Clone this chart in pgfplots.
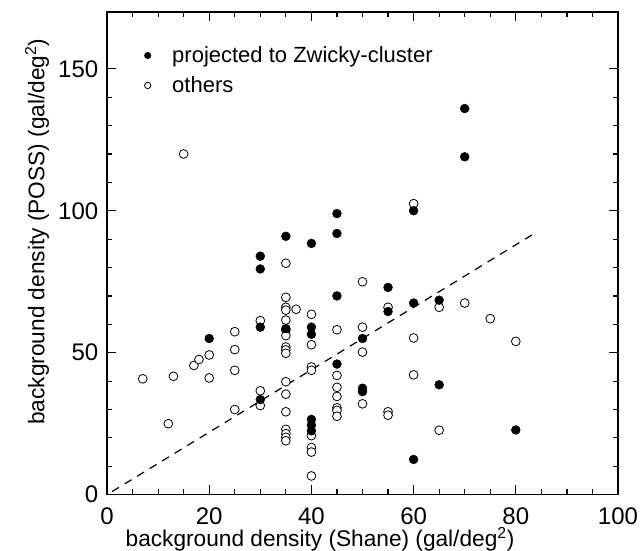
\documentclass[border=0pt]{standalone}
\usepackage{fontspec}
\setmainfont{Liberation Sans}
\usepackage{pgfplots}
\pgfplotsset{compat=1.18}
\pgfplotstableread{
x y
70 136
70 119
60 100
45 99
45 92
35 91
40 88.5
30 84
30 79.5
45 70
55 73
55 64.5
60 67.5
65 68.5
30 59
35 58.5
40 59
40 56.5
20 55
50 55
45 46
50 37.5
50 36.3
30 33.5
40 26.5
40 24.5
40 22.5
65 38.7
80 22.8
60 12.4
}\zwicky
\pgfplotstableread{
x y
15 120
60 102.5
35 81.5
50 75
35 69.5
35 66
35 65
37 65.3
35 61.5
35 58
35 56
35 52
35 51
35 49.8
35 39.8
35 35.4
35 29.2
35 23
35 21.5
35 20.2
35 19
30 61.3
30 36.6
30 31.4
25 57.4
25 51.1
25 43.8
25 30
20 49.2
20 41.1
17 45.5
18 47.6
13 41.7
7 40.8
12 25
40 63.5
40 52.8
40 45
40 43.8
40 20.8
40 16.6
40 15
40 6.6
45 58.1
45 42
45 37.8
45 34.6
45 30.6
45 29.7
45 27.6
50 59
50 50.2
50 32
55 66
55 29.2
55 28
60 55.2
60 42.2
65 66
65 22.7
70 67.5
75 62
80 54
}\others
\begin{document}
\begin{tikzpicture}
\begin{axis}[
  scale only axis, width=383.25pt, height=362pt,
  xmin=0, xmax=100, ymin=0, ymax=170,
  xtick={0,20,...,100}, ytick={0,50,100,150},
  minor x tick num=3, minor y tick num=4,
  tick align=inside, major tick length=7pt, minor tick length=4pt,
  every tick/.style={line width=0.9pt, black},
  axis line style={line width=1.1pt},
  /pgf/number format/assume math mode=true,
  tick label style={font=\fontsize{18}{18}\selectfont},
  xticklabel style={yshift=-6pt},
  yticklabel style={xshift=-3pt},
  label style={font=\fontsize{17}{17}\selectfont},
  xlabel={background density (Shane) (gal/deg\textsuperscript{2})},
  ylabel={background density (POSS) (gal/deg\textsuperscript{2})},
  xlabel style={at={(axis description cs:0.417,-0.093)}, anchor=center},
  ylabel style={at={(axis description cs:-0.137,0.545)}, anchor=center},
  legend style={draw=none, fill=none, at={(axis description cs:0.065,0.94)}, anchor=north west, font=\fontsize{16.5}{18}\selectfont, row sep=5pt, column sep=14pt},
  legend cell align=left,
]
\addlegendimage{only marks, mark=*, mark size=2.4pt, black}
\addlegendentry{projected to Zwicky-cluster}
\addlegendimage{only marks, mark=o, mark size=2.4pt, black, line width=0.6pt}
\addlegendentry{others}
\addplot[dashed, line width=0.9pt, dash pattern=on 6pt off 5pt, forget plot] coordinates {(1,1.1) (84,92.4)};
\addplot[only marks, mark=*, mark size=3.3pt, mark options={fill=white, draw=black, line width=0.6pt}, forget plot] table {\others};
\addplot[only marks, mark=*, mark size=3.3pt, black, forget plot] table {\zwicky};
\end{axis}
\pgfresetboundingbox
\path[use as bounding box] ([shift={(-80.25pt,-42pt)}]current axis.south west) rectangle ([shift={(17.25pt,9pt)}]current axis.north east);
\end{tikzpicture}
\end{document}
